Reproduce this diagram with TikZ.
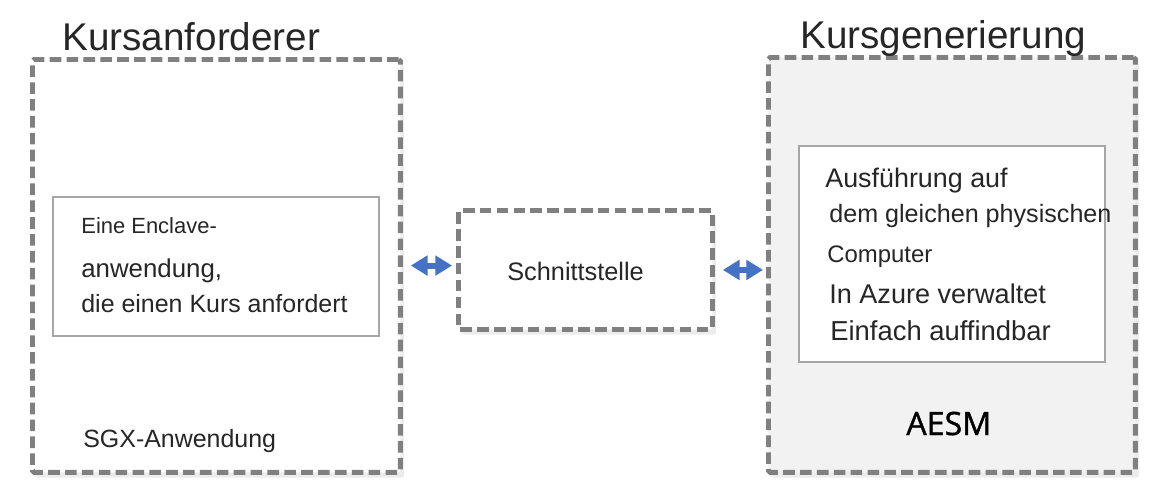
\documentclass[tikz,border=0pt]{standalone}
\usepackage{fontspec}
\setmainfont{Liberation Sans}
\newfontfamily\aesmfont[FakeBold=1.2]{Open Sans}
\usetikzlibrary{arrows.meta, shadows}

\definecolor{boxgray}{HTML}{808080}
\definecolor{linegray}{HTML}{A6A6A6}
\definecolor{panelgray}{HTML}{F2F2F2}
\definecolor{textgray}{HTML}{262626}
\definecolor{arrowblue}{HTML}{4472C4}

\newcommand{\fs}[1]{\fontsize{#1}{#1}\selectfont}

\tikzset{
  outerbox/.style={draw=boxgray, line width=2.8pt, dash pattern=on 6.6pt off 3pt,
    rounded corners=1pt, anchor=north west, inner sep=0pt,
    drop shadow={shadow xshift=2pt, shadow yshift=-3pt, opacity=0.15}},
  innerbox/.style={draw=linegray, line width=1.2pt, fill=white, anchor=north west, inner sep=0pt},
  boxtitle/.style={anchor=base west, inner sep=0pt, text=textgray},
  boxtext/.style={anchor=base west, inner sep=0pt, text=textgray},
  biarrow/.style={arrowblue, line width=3.4pt,
    {Triangle[length=9.5pt,width=11pt]}-{Triangle[length=9.5pt,width=11pt]}}
}

\begin{document}
\begin{tikzpicture}[x=0.02cm, y=-0.02cm]
\useasboundingbox (0,0) rectangle (1152,490);

\node[outerbox, fill=white, minimum width=7.36cm, minimum height=8.26cm] (reqbox) at (30,57) {};
\node[outerbox, fill=panelgray, minimum width=7.34cm, minimum height=8.3cm] (genbox) at (766,55) {};
\node[outerbox, fill=white, minimum width=5.08cm, minimum height=2.38cm] (iface) at (456,208) {};

\node[innerbox, minimum width=6.52cm, minimum height=2.78cm] (enclave) at (52,196) {};
\node[innerbox, minimum width=6.12cm, minimum height=4.32cm] (props) at (798,145) {};

\node[boxtitle, font=\fs{22}] (reqtitle) at (62,50) {Kursanforderer};
\node[boxtitle, font=\fs{22}] (gentitle) at (800,48) {Kursgenerierung};

\node[boxtext, font=\fs{12.5}] (encl1) at (81,233) {Eine Enclave-};
\node[boxtext, font=\fs{14.7}] (encl2) at (81,277) {anwendung,};
\node[boxtext, font=\fs{14.2}] (encl3) at (81,312) {die einen Kurs anfordert};
\node[boxtext, font=\fs{14.2}] (sgx) at (83,447) {SGX-Anwendung};

\node[boxtext, font=\fs{14.4}] (ifacetext) at (507,280) {Schnittstelle};

\node[boxtext, font=\fs{15.3}] (prop1) at (825,187) {Ausführung auf};
\node[boxtext, font=\fs{14.3}] (prop2) at (829,222) {dem gleichen physischen};
\node[boxtext, font=\fs{13.6}] (prop3) at (827,262) {Computer};
\node[boxtext, font=\fs{15.4}] (prop4) at (829,303) {In Azure verwaltet};
\node[boxtext, font=\fs{15.6}] (prop5) at (830,340) {Einfach auffindbar};
\node[boxtext, font=\aesmfont\fs{18.3}, text=black] (aesm) at (906,435) {AESM};

\draw[biarrow, shorten <=0.16cm, shorten >=0.08cm]
  ([yshift=2.5pt]reqbox.east |- iface.west) -- ([yshift=2.5pt]iface.west);
\draw[biarrow, shorten <=0.16cm, shorten >=0.06cm]
  (iface.east) -- (genbox.west |- iface.east);
\end{tikzpicture}
\end{document}
